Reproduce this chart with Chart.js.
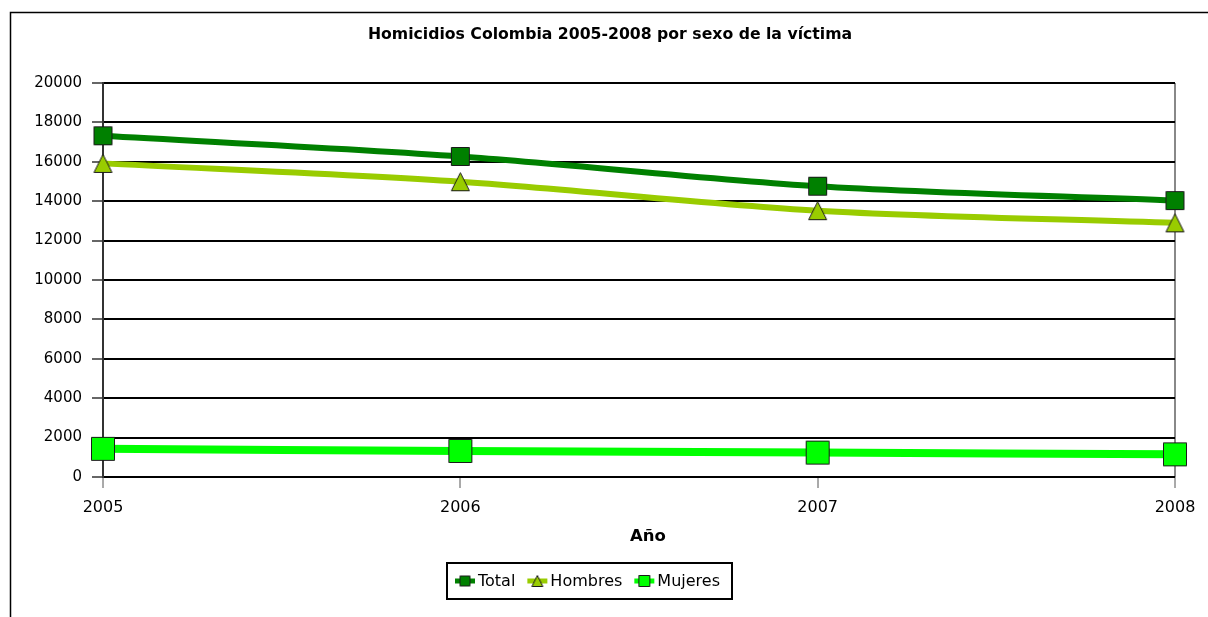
<!DOCTYPE html>
<html>
<head>
<meta charset="utf-8">
<script src="https://cdn.jsdelivr.net/npm/chart.js@4"></script>
<style>
html,body{margin:0;padding:0;background:#fff;}
#wrap{position:relative;width:1208px;height:617px;}
</style>
</head>
<body>
<div id="wrap"><canvas id="c" width="1208" height="617"></canvas></div>
<script>
const chartTitle = 'Homicidios Colombia 2005-2008 por sexo de la víctima';
const xAxisTitle = 'Año';
const years = ['2005', '2006', '2007', '2008'];
const seriesNames = ['Total', 'Hombres', 'Mujeres'];
const totalValues = [17320, 16270, 14760, 14030];
const hombresValues = [15920, 14990, 13520, 12900];
const mujeresValues = [1430, 1320, 1240, 1150];
const yTicks = [0, 2000, 4000, 6000, 8000, 10000, 12000, 14000, 16000, 18000, 20000];

const FONT = '"DejaVu Sans", sans-serif';

function markerCanvas(shape, size, fill) {
  const pad = 2;
  const c = document.createElement('canvas');
  c.width = size + pad * 2; c.height = size + pad * 2;
  const g = c.getContext('2d');
  g.fillStyle = fill; g.strokeStyle = '#1a1a1a'; g.lineWidth = 1;
  g.beginPath();
  if (shape === 'tri') {
    g.moveTo(pad + size / 2, pad + 0.5);
    g.lineTo(pad + size - 0.5, pad + size - 0.5);
    g.lineTo(pad + 0.5, pad + size - 0.5);
    g.closePath();
  } else {
    g.rect(pad + 0.5, pad + 0.5, size - 1, size - 1);
  }
  g.fill(); g.stroke();
  return c;
}

const colors = ['#008000', '#99cc00', '#00ff00'];
const markers = [markerCanvas('sq', 19, colors[0]), markerCanvas('tri', 19, colors[1]), markerCanvas('sq', 24, colors[2])];
const legendMarkers = [markerCanvas('sq', 11, colors[0]), markerCanvas('tri', 12, colors[1]), markerCanvas('sq', 12, colors[2])];
const lineWidths = [6, 6, 8];

const framePlugin = {
  id: 'frame',
  beforeDraw(chart) {
    const ctx = chart.ctx;
    ctx.save();
    ctx.fillStyle = '#fff';
    ctx.fillRect(0, 0, chart.width, chart.height);
    ctx.strokeStyle = '#000'; ctx.lineWidth = 1.5;
    ctx.beginPath();
    ctx.moveTo(10.5, 617); ctx.lineTo(10.5, 12.5); ctx.lineTo(1208, 12.5);
    ctx.stroke();
    ctx.restore();
  },
  afterDraw(chart) {
    const ctx = chart.ctx;
    ctx.save();
    ctx.fillStyle = '#000';
    ctx.textAlign = 'center'; ctx.textBaseline = 'middle';
    ctx.font = 'bold 15.7px ' + FONT;
    ctx.fillText(chartTitle, 610, 35);
    ctx.font = 'bold 16.5px ' + FONT;
    ctx.fillText(xAxisTitle, 648, 537);
    // legend
    const bx = 447, by = 563, bw = 285, bh = 36;
    ctx.strokeStyle = '#000'; ctx.lineWidth = 2;
    ctx.strokeRect(bx, by, bw, bh);
    ctx.font = '16px ' + FONT;
    ctx.textAlign = 'left';
    const cy = by + bh / 2;
    let x = bx + 8;
    chart.data.datasets.forEach((ds, i) => {
      ctx.strokeStyle = ds.borderColor; ctx.lineWidth = 5;
      ctx.beginPath(); ctx.moveTo(x, cy); ctx.lineTo(x + 20, cy); ctx.stroke();
      const m = legendMarkers[i];
      ctx.drawImage(m, x + 10 - m.width / 2, cy - m.height / 2);
      ctx.fillStyle = '#000';
      ctx.fillText(ds.label, x + 23, cy + 1);
      x += 23 + ctx.measureText(ds.label).width + 12;
    });
    ctx.restore();
  }
};

new Chart(document.getElementById('c'), {
  type: 'line',
  data: {
    labels: years,
    datasets: [totalValues, hombresValues, mujeresValues].map((vals, i) => ({
      label: seriesNames[i],
      data: vals,
      borderColor: colors[i],
      backgroundColor: colors[i],
      borderWidth: lineWidths[i],
      pointStyle: markers[i],
      pointRadius: 12,
      tension: 0.3,
      fill: false,
      order: i
    }))
  },
  options: {
    responsive: false,
    animation: false,
    events: [],
    layout: { padding: { left: 10, right: 33, top: 83, bottom: 80 } },
    plugins: { legend: { display: false }, title: { display: false }, tooltip: { enabled: false } },
    scales: {
      x: {
        type: 'category',
        offset: false,
        afterFit(s) { s.height = 60; },
        border: { display: false },
        grid: {
          drawOnChartArea: true,
          color: (c) => c.index === years.length - 1 ? '#888888' : 'rgba(0,0,0,0)',
          lineWidth: 2,
          tickColor: '#555',
          tickWidth: 1,
          tickLength: 11
        },
        ticks: { color: '#000', font: { family: FONT, size: 16 }, padding: 10, maxRotation: 0 }
      },
      y: {
        min: 0, max: 20000,
        afterFit(s) { s.width = 93; },
        afterBuildTicks(s) { s.ticks = yTicks.map(v => ({ value: v })); },
        border: { display: true, color: '#333', width: 2 },
        grid: { color: '#000', lineWidth: 2, tickColor: '#333', tickWidth: 1.5, tickLength: 11 },
        ticks: { color: '#000', font: { family: FONT, size: 15 }, padding: 10, callback: (v) => String(v) }
      }
    }
  },
  plugins: [framePlugin]
});
</script>
</body>
</html>
